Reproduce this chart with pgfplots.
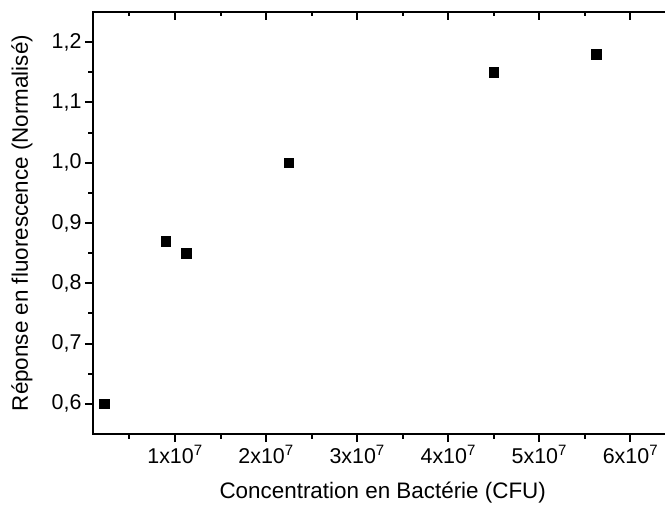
\documentclass[border=0pt]{standalone}
\usepackage{pgfplots}
\pgfplotsset{compat=1.18}
\usepackage{fontspec}
\setmainfont{Liberation Sans}
\begin{document}
\begin{tikzpicture}
\pgfplotsset{
  base/.style={
    scale only axis, width=583bp, height=422bp,
    xmin=1e6, xmax=6.5e7, ymin=0.55, ymax=1.25,
    xtick={1e7,2e7,3e7,4e7,5e7,6e7},
    minor xtick={5e6,1.5e7,2.5e7,3.5e7,4.5e7,5.5e7,6.5e7},
    ytick={0.6,0.7,0.8,0.9,1.0,1.1,1.2},
    minor ytick={0.65,0.75,0.85,0.95,1.05,1.15},
    scaled x ticks=false,
    major tick length=8bp, minor tick length=4.5bp,
    every tick/.style={black, line width=2bp},
    axis line style={line width=2.5bp},
    font=\fontsize{21.5}{25}\selectfont,
  }
}
\begin{axis}[base, name=ax,
  tick align=outside, xtick pos=left, ytick pos=left,
  xticklabels={1x10\textsuperscript{7},2x10\textsuperscript{7},3x10\textsuperscript{7},4x10\textsuperscript{7},5x10\textsuperscript{7},6x10\textsuperscript{7}},
  yticklabel style={/pgf/number format/.cd, fixed, fixed zerofill, precision=1, use comma, assume math mode=true},
  xlabel={Concentration en Bactérie (CFU)},
  ylabel={Réponse en fluorescence (Normalisé)},
  xlabel style={at={([yshift=-59bp]axis description cs:0.497,0)}, anchor=center, font=\fontsize{22.5}{26}\selectfont},
  ylabel style={at={([xshift=-71bp]axis description cs:0,0.5)}, anchor=center, font=\fontsize{22.5}{26}\selectfont},
]
\addplot[only marks, mark=square*, mark size=4.7bp, black] coordinates {
  (2.25e6,0.60) (9.0e6,0.87) (1.125e7,0.85) (2.25e7,1.00) (4.5e7,1.15) (5.625e7,1.18)
};
\end{axis}
\begin{axis}[base,
  tick align=inside, xtick pos=right, ytick pos=right,
  xticklabels={}, yticklabels={},
]
\end{axis}
\pgfresetboundingbox
\path[use as bounding box] ([xshift=-93bp,yshift=-79bp]ax.south west) rectangle ([xshift=572bp,yshift=12bp]ax.north west);
\end{tikzpicture}
\end{document}
